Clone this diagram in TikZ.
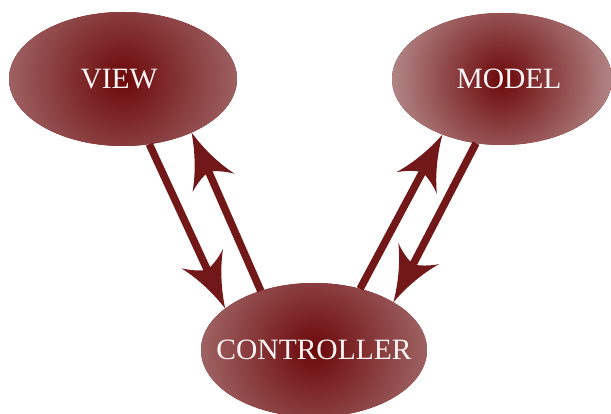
\documentclass[tikz,border=0pt]{standalone}
\usepackage{fontspec}
\setmainfont{Liberation Serif}
\usetikzlibrary{arrows.meta,shapes.geometric}

% Spear-shaped tip with concave sides and a swept-back rear edge
\pgfdeclarearrow{
  name = Spear,
  parameters = {\the\pgfarrowlength,\the\pgfarrowwidth},
  setup code = {
    \pgfarrowssettipend{0pt}
    \pgfarrowssetbackend{-\pgfarrowlength}
    \pgfarrowssetlineend{-.66\pgfarrowlength}
    \pgfarrowssetvisualbackend{-.78\pgfarrowlength}
    \pgfarrowshullpoint{0pt}{0pt}
    \pgfarrowsupperhullpoint{-\pgfarrowlength}{.5\pgfarrowwidth}
    \pgfarrowssavethe\pgfarrowlength
    \pgfarrowssavethe\pgfarrowwidth
  },
  drawing code = {
    \pgfpathmoveto{\pgfqpoint{0pt}{0pt}}
    \pgfpathcurveto{\pgfpoint{-.4\pgfarrowlength}{.11\pgfarrowwidth}}
                   {\pgfpoint{-.75\pgfarrowlength}{.3\pgfarrowwidth}}
                   {\pgfpoint{-\pgfarrowlength}{.5\pgfarrowwidth}}
    \pgfpathcurveto{\pgfpoint{-.88\pgfarrowlength}{.32\pgfarrowwidth}}
                   {\pgfpoint{-.8\pgfarrowlength}{.12\pgfarrowwidth}}
                   {\pgfpoint{-.78\pgfarrowlength}{0pt}}
    \pgfpathcurveto{\pgfpoint{-.8\pgfarrowlength}{-.12\pgfarrowwidth}}
                   {\pgfpoint{-.88\pgfarrowlength}{-.32\pgfarrowwidth}}
                   {\pgfpoint{-\pgfarrowlength}{-.5\pgfarrowwidth}}
    \pgfpathcurveto{\pgfpoint{-.75\pgfarrowlength}{-.3\pgfarrowwidth}}
                   {\pgfpoint{-.4\pgfarrowlength}{-.11\pgfarrowwidth}}
                   {\pgfqpoint{0pt}{0pt}}
    \pgfpathclose
    \pgfusepathqfill
  },
  defaults = {length = 55pt, width = 46pt}
}

\definecolor{coreRed}{RGB}{108,8,10}
\definecolor{rimRed}{RGB}{184,144,144}
\definecolor{arrowRed}{RGB}{115,24,24}
\definecolor{labelWhite}{RGB}{250,244,244}

\begin{document}
\begin{tikzpicture}[x=1pt,y=1pt,
  blob/.style={ellipse, inner sep=0pt, outer sep=0pt, fill=coreRed,
    text=labelWhite, font=\fontsize{29.5}{34}\selectfont},
  glow/.style={path picture={\shade[inner color=coreRed, outer color=rimRed]
    (path picture bounding box.center) circle (#1);}},
  link/.style={color=arrowRed, line width=7.5pt, -{Spear}}]
\useasboundingbox (0,0) rectangle (611,414);

\node[blob, glow=175pt, minimum width=228pt, minimum height=134pt]
  (view) at (123,335) {\makebox[0pt]{VIEW\hspace*{8pt}}};
\node[blob, glow=120pt, minimum width=220pt, minimum height=132pt]
  (model) at (502,335) {\makebox[0pt]{\hspace*{14pt}MODEL}};
\node[blob, glow=170pt, minimum width=226pt, minimum height=134pt]
  (ctrl) at (314,64) {\makebox[0pt]{CONTROLLER}};

\draw[link] (view.-68.5) -- (ctrl.155.8);
\draw[link] (ctrl.132.6) -- (view.-38.8);
\draw[link] (ctrl.53.9) -- (model.223);
\draw[link] (model.248.3) -- (ctrl.31.6);
\end{tikzpicture}
\end{document}
